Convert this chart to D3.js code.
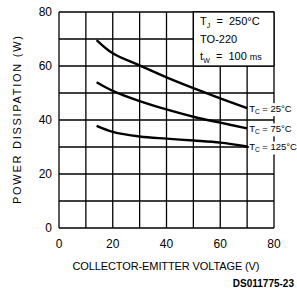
<!DOCTYPE html>
<html>
<head>
<meta charset="utf-8">
<script src="https://cdn.jsdelivr.net/npm/d3@7"></script>
<style>
body { margin: 0; background: #fff; }
text { font-family: "Liberation Sans", Arial, sans-serif; fill: #000; white-space: pre; }
</style>
</head>
<body>
<div id="chart-area"></div>
<script>
// data
var voltage = [14, 20, 30, 40, 50, 60, 70];
var tc25 = [69.6, 64.7, 60.2, 55.8, 51.8, 48.0, 44.4];
var tc75 = [54.0, 50.8, 47.0, 43.9, 41.2, 39.0, 36.9];
var tc125 = [37.8, 35.6, 33.9, 33.1, 32.4, 31.6, 30.2];
var curveLabels = ["25°C", "75°C", "125°C"];
var xTicks = [0, 20, 40, 60, 80];
var yTicks = [0, 20, 40, 60, 80];

var margin = {left: 59, top: 12, right: 23, bottom: 62};
var width = 297 - margin.left - margin.right;
var height = 290 - margin.top - margin.bottom;

var svg = d3.select("#chart-area")
    .append("svg")
        .attr("width", 297)
        .attr("height", 290);

var g = svg.append("g")
    .attr("transform", "translate(" + margin.left + ", " + margin.top + ")");

var x = d3.scaleLinear().domain([0, 80]).range([0, width]);
var y = d3.scaleLinear().domain([0, 80]).range([height, 0]);

// grid every 10
g.selectAll(".vgrid")
    .data(d3.range(0, 90, 10))
    .enter().append("line")
        .attr("x1", function(d){ return x(d); })
        .attr("x2", function(d){ return x(d); })
        .attr("y1", 0).attr("y2", height)
        .attr("stroke", "#000").attr("stroke-width", 1.3);

g.selectAll(".hgrid")
    .data(d3.range(0, 90, 10))
    .enter().append("line")
        .attr("y1", function(d){ return y(d); })
        .attr("y2", function(d){ return y(d); })
        .attr("x1", 0).attr("x2", width)
        .attr("stroke", "#000").attr("stroke-width", 1.3);

// tick labels
g.selectAll(".xt")
    .data(xTicks)
    .enter().append("text")
        .attr("x", function(d){ return x(d); })
        .attr("y", height + 20)
        .attr("text-anchor", "middle")
        .attr("font-size", "12px")
        .text(function(d){ return d; });

g.selectAll(".yt")
    .data(yTicks)
    .enter().append("text")
        .attr("x", -7)
        .attr("y", function(d){ return y(d) + 4; })
        .attr("text-anchor", "end")
        .attr("font-size", "12px")
        .text(function(d){ return d; });

// info box
var box = g.append("g");
box.append("rect")
    .attr("x", x(50)).attr("y", 0)
    .attr("width", x(80) - x(50)).attr("height", y(60))
    .attr("fill", "#fff").attr("stroke", "#000").attr("stroke-width", 1.3);

var t1 = box.append("text").attr("x", x(52.5)).attr("y", 13).attr("font-size", "11px");
t1.append("tspan").text("T");
t1.append("tspan").attr("font-size", "7px").attr("dy", 3).text("J");
t1.append("tspan").attr("dy", -3).text("  =  250°C");

box.append("text").attr("x", x(52.5)).attr("y", 31).attr("font-size", "11px").text("TO-220");

var t3 = box.append("text").attr("x", x(52.5)).attr("y", 48).attr("font-size", "11px");
t3.append("tspan").text("t");
t3.append("tspan").attr("font-size", "7px").attr("dy", 3).text("W");
t3.append("tspan").attr("dy", -3).text("  =  100 ");
t3.append("tspan").attr("font-size", "9px").text("ms");

// curves
var line = d3.line()
    .x(function(d){ return x(d[0]); })
    .y(function(d){ return y(d[1]); })
    .curve(d3.curveCatmullRom);

var series = [tc25, tc75, tc125];
series.forEach(function(s, i) {
    var pts = voltage.map(function(v, j){ return [v, s[j]]; });
    g.append("path")
        .datum(pts)
        .attr("d", line)
        .attr("fill", "none")
        .attr("stroke", "#000")
        .attr("stroke-width", 2.4);

    var last = pts[pts.length - 1];
    var lab = g.append("g")
        .attr("transform", "translate(" + (x(last[0]) + 2) + "," + (y(last[1]) + 4) + ")");
    lab.append("rect")
        .attr("x", 0).attr("y", -9)
        .attr("width", 44).attr("height", 13)
        .attr("fill", "#fff");
    var tl = lab.append("text").attr("font-size", "9.5px");
    tl.append("tspan").text("T");
    tl.append("tspan").attr("font-size", "6.5px").attr("dy", 2).text("C");
    tl.append("tspan").attr("dy", -2).text(" = " + curveLabels[i]);
});

// axis titles
svg.append("text")
    .attr("x", 166)
    .attr("y", 270)
    .attr("text-anchor", "middle")
    .attr("font-size", "11px")
    .attr("textLength", 187)
    .text("COLLECTOR-EMITTER VOLTAGE (V)");

svg.append("text")
    .attr("transform", "translate(21, " + (margin.top + height / 2) + ") rotate(-90)")
    .attr("text-anchor", "middle")
    .attr("font-size", "11px")
    .attr("textLength", 168)
    .text("POWER DISSIPATION (W)");

svg.append("text")
    .attr("x", 294)
    .attr("y", 287)
    .attr("text-anchor", "end")
    .attr("font-size", "10px")
    .attr("font-weight", "bold")
    .text("DS011775-23");
</script>
</body>
</html>
